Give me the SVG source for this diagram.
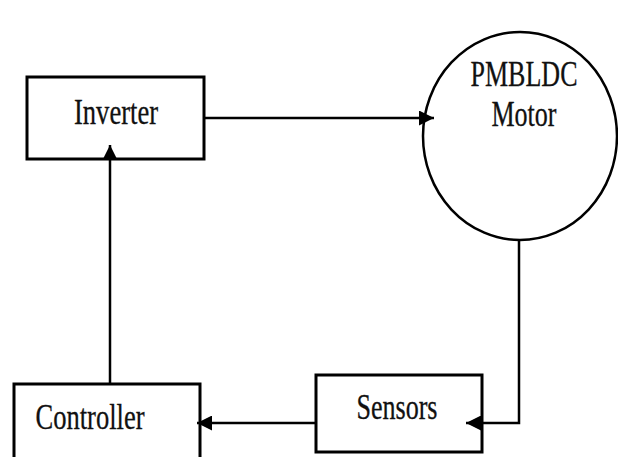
<svg xmlns="http://www.w3.org/2000/svg" width="618" height="457" viewBox="0 0 618 457">
  <style>
    .box { fill: #fff; stroke: #000; stroke-width: 3; }
    .motor { fill: #fff; stroke: #000; stroke-width: 2.5; }
    .label { font-family: "Liberation Serif", "Times New Roman", serif; font-size: 35px; fill: #111; stroke: #111; stroke-width: 0.3; text-anchor: middle; }
    .wire { fill: none; stroke: #000; stroke-width: 2.5; }
  </style>
  <defs>
    <marker id="arrow" viewBox="0 0 10 10" refX="10" refY="5" markerWidth="16" markerHeight="15" markerUnits="userSpaceOnUse" orient="auto">
      <path d="M0,0 L10,5 L0,10 Z" fill="#000"/>
    </marker>
  </defs>
  <rect width="618" height="457" fill="#fff"/>

  <g id="motor">
    <ellipse class="motor" cx="520" cy="136" rx="97" ry="104"/>
    <text class="label" x="524" y="86" textLength="107" lengthAdjust="spacingAndGlyphs">PMBLDC</text>
    <text class="label" x="524" y="126" textLength="65" lengthAdjust="spacingAndGlyphs">Motor</text>
  </g>

  <g id="inverter">
    <rect class="box" x="27" y="77" width="177" height="82"/>
    <text class="label" x="116" y="124" textLength="84" lengthAdjust="spacingAndGlyphs">Inverter</text>
  </g>

  <g id="sensors">
    <rect class="box" x="316" y="375" width="166" height="77"/>
    <text class="label" x="397" y="419" textLength="81" lengthAdjust="spacingAndGlyphs">Sensors</text>
  </g>

  <g id="controller">
    <rect class="box" x="14" y="384" width="186" height="80"/>
    <text class="label" x="90" y="429" textLength="109" lengthAdjust="spacingAndGlyphs">Controller</text>
  </g>

  <g id="connectors">
    <line class="wire" x1="204" y1="118" x2="434" y2="118" marker-end="url(#arrow)"/>
    <polyline class="wire" points="519,240 519,423 466,423" marker-end="url(#arrow)"/>
    <line class="wire" x1="316" y1="423" x2="197" y2="423" marker-end="url(#arrow)"/>
    <line class="wire" x1="110" y1="384" x2="110" y2="145" marker-end="url(#arrow)"/>
  </g>
</svg>
